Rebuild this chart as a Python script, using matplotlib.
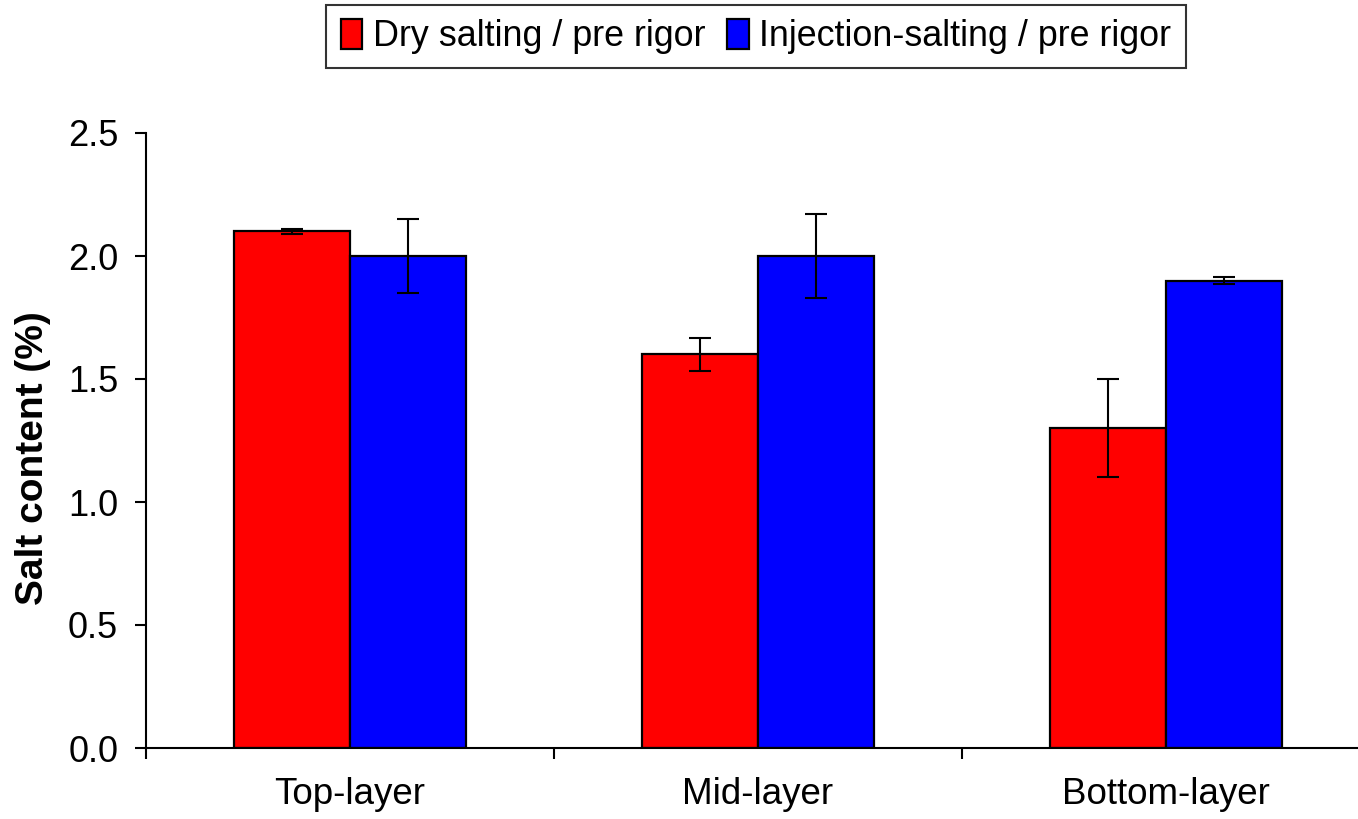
import matplotlib
matplotlib.use("Agg")
import matplotlib.pyplot as plt
import numpy as np

categories = ["Top-layer", "Mid-layer", "Bottom-layer"]
series_names = ["Dry salting / pre rigor", "Injection-salting / pre rigor"]
dry_values = [2.10, 1.60, 1.30]
dry_errors = [0.01, 0.067, 0.20]
inj_values = [2.00, 2.00, 1.90]
inj_errors = [0.15, 0.17, 0.015]
y_ticks = [0.0, 0.5, 1.0, 1.5, 2.0, 2.5]

plt.rcParams['font.family'] = ['Liberation Sans', 'DejaVu Sans']

W, H = 1358, 819
fig = plt.figure(figsize=(W / 100, H / 100), dpi=100)
left, right, bottom, top = 146, 1370, 748, 133
ax = fig.add_axes([left / W, 1 - bottom / H, (right - left) / W, (bottom - top) / H])

x = np.arange(len(categories)) + 0.5
width = 0.2855
err_kw = dict(ecolor='black', elinewidth=1.5, capsize=8, capthick=1.5)
b1 = ax.bar(x - width / 2, dry_values, width, yerr=dry_errors, color='#ff0000',
            edgecolor='black', linewidth=1.6, label=series_names[0], error_kw=err_kw, zorder=2)
b2 = ax.bar(x + width / 2, inj_values, width, yerr=inj_errors, color='#0000ff',
            edgecolor='black', linewidth=1.6, label=series_names[1], error_kw=err_kw, zorder=2)

ax.set_xlim(0, 3)
ax.set_ylim(0, 2.5)
ax.set_yticks(y_ticks)
ax.set_yticklabels([f"{v:.1f}" for v in y_ticks], fontsize=26)
ax.set_xticks([0, 1, 2, 3])
ax.set_xticklabels([])
ax.set_xticks(x, minor=True)
ax.set_xticklabels(categories, minor=True, fontsize=26.5)
ax.tick_params(axis='x', which='minor', length=0, pad=21)
ax.tick_params(axis='x', which='major', direction='out', length=8, width=1.5)
ax.tick_params(axis='y', direction='out', length=8, width=1.5, pad=12)

for s in ['top', 'right']:
    ax.spines[s].set_visible(False)
for s in ['left', 'bottom']:
    ax.spines[s].set_linewidth(1.5)

ax.set_ylabel("Salt content (%)", fontsize=28, fontweight='bold')
ax.yaxis.set_label_coords(-0.078, 0.4715)

leg = fig.legend(handles=[b1, b2], labels=series_names, loc='center',
                 bbox_to_anchor=(756 / W, 1 - 36.5 / H), ncol=2, fontsize=25.8,
                 frameon=True, fancybox=False, edgecolor='black',
                 handlelength=0.6, handleheight=0.9, handletextpad=0.3,
                 columnspacing=0.6, borderpad=0.4)
leg.get_frame().set_linewidth(1.5)

fig.savefig("out.png", dpi=100)
